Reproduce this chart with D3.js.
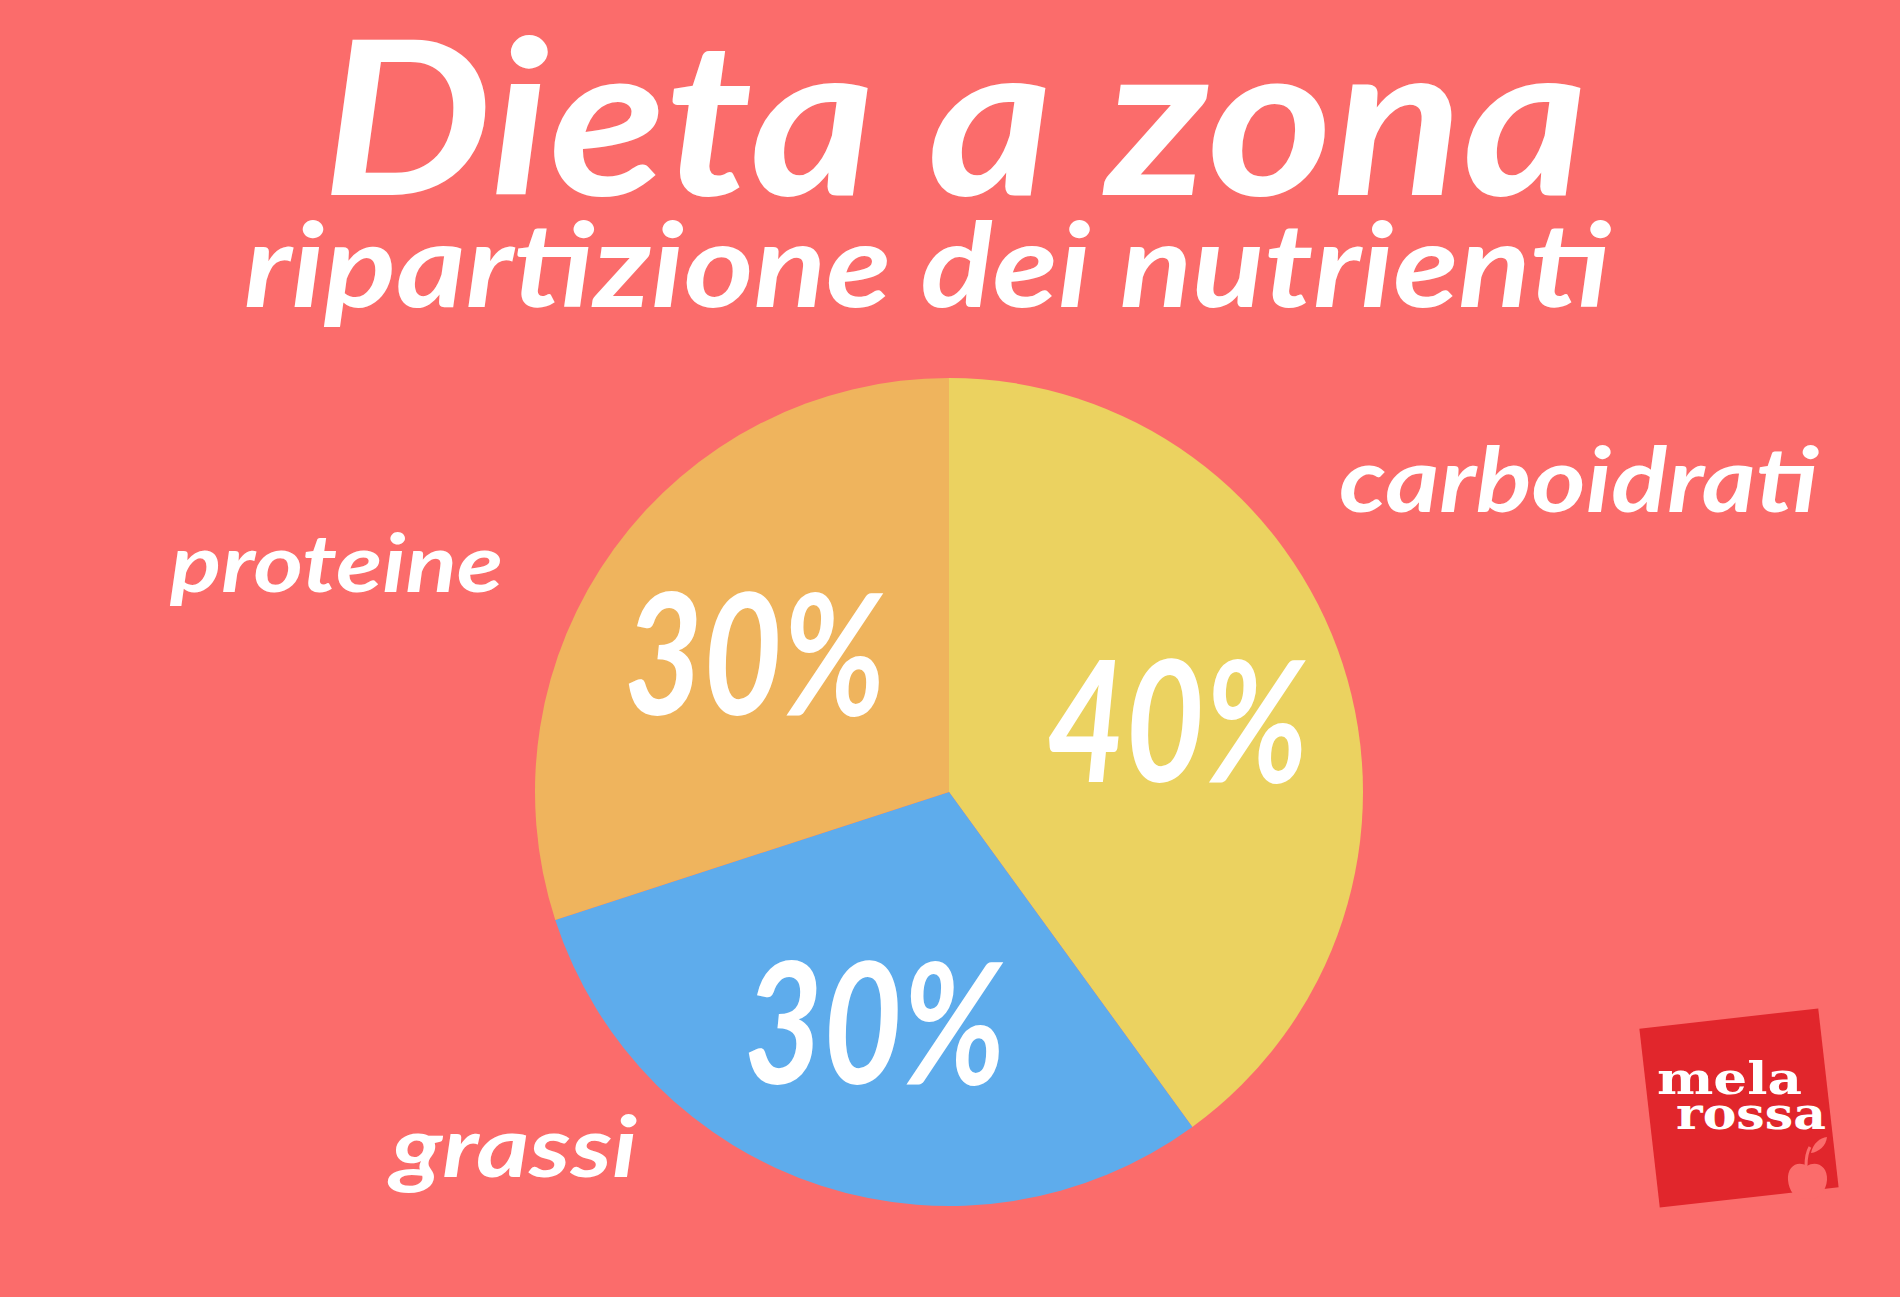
<!DOCTYPE html>
<html>
<head>
<meta charset="utf-8">
<script src="https://cdn.jsdelivr.net/npm/d3@7"></script>
<style>
  html, body { margin: 0; padding: 0; background: #FB6C6B; }
  svg { display: block; }
</style>
</head>
<body>
<svg id="chart" width="1900" height="1297"></svg>
<script>
// ---- data ----
const categories = ["carboidrati", "grassi", "proteine"];
const values = [40, 30, 30];
const valueLabels = ["40%", "30%", "30%"];
const titleText = "Dieta a zona";
const subtitleText = "ripartizione dei nutrienti";
const logoLines = ["mela", "rossa"];

// ---- styles / layout ----
const W = 1900, H = 1297;
const bg = "#FB6C6B";
const colors = d3.scaleOrdinal().domain(categories).range(["#EBD260", "#5EACEC", "#EFB45D"]);
const scriptFont = "Lato, 'Open Sans', sans-serif";
const cx = 949, cy = 792, R = 414;

const svg = d3.select("#chart");
svg.append("rect").attr("width", W).attr("height", H).attr("fill", bg);

// title
svg.append("text")
  .attr("x", 322).attr("y", 195)
  .attr("font-family", scriptFont).attr("font-weight", 700).attr("font-style", "italic")
  .attr("font-size", 215).attr("fill", "#fff")
  .attr("textLength", 1266).attr("lengthAdjust", "spacingAndGlyphs")
  .text(titleText);

svg.append("text")
  .attr("x", 244).attr("y", 307)
  .attr("font-family", scriptFont).attr("font-weight", 700).attr("font-style", "italic")
  .attr("font-size", 116).attr("fill", "#fff")
  .attr("textLength", 1366).attr("lengthAdjust", "spacingAndGlyphs")
  .text(subtitleText);

// pie
const pie = d3.pie().sort(null).value(d => d.v);
const arcs = pie(categories.map((c, i) => ({ c, v: values[i], label: valueLabels[i] })));
const arc = d3.arc().innerRadius(0).outerRadius(R);
const labelArc = d3.arc().innerRadius(240).outerRadius(240);

const g = svg.append("g").attr("transform", `translate(${cx},${cy})`);
g.selectAll("path.slice").data(arcs).join("path")
  .attr("class", "slice")
  .attr("d", arc)
  .attr("fill", d => colors(d.data.c));

g.selectAll("text.pct").data(arcs).join("text")
  .attr("class", "pct")
  .attr("transform", d => { const [x, y] = labelArc.centroid(d); return `translate(${x},${y})`; })
  .attr("text-anchor", "middle")
  .attr("dy", "0.38em")
  .attr("font-family", scriptFont).attr("font-weight", 700).attr("font-style", "italic")
  .attr("font-size", 168).attr("fill", "#fff")
  .attr("textLength", 262).attr("lengthAdjust", "spacingAndGlyphs")
  .text(d => d.data.label);

// category labels (outside)
const catLayout = {
  carboidrati: { x: 1339, y: 512, size: 90, len: 479 },
  proteine:    { x: 170,  y: 592, size: 80, len: 333 },
  grassi:      { x: 391,  y: 1177, size: 84, len: 246 }
};
svg.selectAll("text.cat").data(categories).join("text")
  .attr("class", "cat")
  .attr("x", d => catLayout[d].x).attr("y", d => catLayout[d].y)
  .attr("font-family", scriptFont).attr("font-weight", 700).attr("font-style", "italic")
  .attr("font-size", d => catLayout[d].size).attr("fill", "#fff")
  .attr("textLength", d => catLayout[d].len).attr("lengthAdjust", "spacingAndGlyphs")
  .text(d => d);

// logo
const logo = svg.append("g");
logo.append("rect")
  .attr("x", -90).attr("y", -90).attr("width", 180).attr("height", 180)
  .attr("fill", "#E1262C")
  .attr("transform", "translate(1739,1108) rotate(-6.5)");
logo.append("text").attr("x", 1657).attr("y", 1094)
  .attr("font-family", "'DejaVu Serif', serif").attr("font-weight", 700)
  .attr("font-size", 44).attr("fill", "#fff")
  .attr("textLength", 145).attr("lengthAdjust", "spacingAndGlyphs")
  .text(logoLines[0]);
logo.append("text").attr("x", 1676).attr("y", 1129)
  .attr("font-family", "'DejaVu Serif', serif").attr("font-weight", 700)
  .attr("font-size", 44).attr("fill", "#fff")
  .attr("textLength", 150).attr("lengthAdjust", "spacingAndGlyphs")
  .text(logoLines[1]);
// apple bite
logo.append("path")
  .attr("d", "M1807,1166 C1798,1160 1787,1166 1788,1180 C1789,1193 1798,1202 1807,1198 C1816,1202 1826,1193 1827,1180 C1828,1166 1816,1160 1807,1166 Z")
  .attr("fill", bg);
logo.append("path")
  .attr("d", "M1806,1166 C1806,1158 1807,1152 1810,1147")
  .attr("stroke", bg).attr("stroke-width", 3).attr("fill", "none");
logo.append("path")
  .attr("d", "M1811,1153 C1813,1143 1820,1138 1827,1137 C1826,1146 1819,1152 1811,1153 Z")
  .attr("fill", bg);
</script>
</body>
</html>
